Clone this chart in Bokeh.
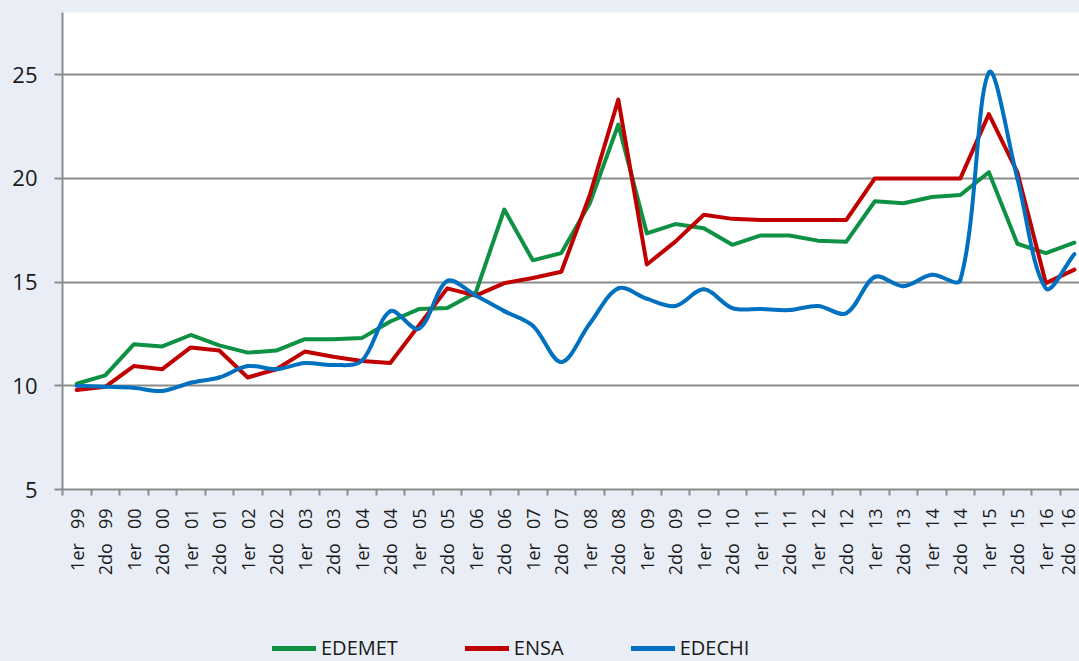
import numpy as np
from bokeh.plotting import figure
from bokeh.layouts import column
from bokeh.models import Range1d, FixedTicker, Legend, LegendItem
from bokeh.embed import file_html
from bokeh.resources import INLINE

# ---- data ----
halves = ["1er", "2do"]
years = ["99", "00", "01", "02", "03", "04", "05", "06", "07", "08",
         "09", "10", "11", "12", "13", "14", "15", "16"]
labels = [f"{h}\u00a0\u00a0\u00a0{y}" for y in years for h in halves]

edemet = [10.1, 10.5, 12.0, 11.9, 12.45, 11.95, 11.6, 11.7, 12.25, 12.25,
          12.3, 13.1, 13.7, 13.75, 14.5, 18.5, 16.05, 16.4, 18.8, 22.6,
          17.35, 17.8, 17.6, 16.8, 17.25, 17.25, 17.0, 16.95, 18.9, 18.8,
          19.1, 19.2, 20.3, 16.85, 16.4, 16.9]
ensa = [9.8, 9.95, 10.95, 10.8, 11.85, 11.7, 10.4, 10.8, 11.65, 11.4,
        11.2, 11.1, 12.9, 14.7, 14.35, 14.95, 15.2, 15.5, 19.2, 23.8,
        15.85, 16.95, 18.25, 18.05, 18.0, 18.0, 18.0, 18.0, 20.0, 20.0,
        20.0, 20.0, 23.1, 20.3, 14.95, 15.6]
edechi = [10.0, 9.95, 9.9, 9.75, 10.15, 10.4, 10.95, 10.8, 11.1, 11.0,
          11.2, 13.6, 12.75, 15.05, 14.35, 13.6, 12.9, 11.15, 13.0, 14.7,
          14.2, 13.85, 14.65, 13.75, 13.7, 13.65, 13.85, 13.5, 15.25, 14.8,
          15.35, 15.1, 25.1, 20.0, 14.7, 16.35]
series_names = ["EDEMET", "ENSA", "EDECHI"]
y_ticks = [5, 10, 15, 20, 25]

GREEN = "#0F9144"
RED = "#C00000"
BLUE = "#0070C0"
BG = "#E9EEF6"
GRID = "#8C8C8C"
FONT = "Open Sans"

n = len(labels)
xs = list(range(n))
X0, X1, Y0, Y1 = -0.5, 35.18, 5, 28
FW, FH = 1017, 477  # frame size in px

p = figure(width=1079, height=580, output_backend="svg", toolbar_location=None,
           x_range=Range1d(X0, X1), y_range=Range1d(Y0, Y1),
           min_border_left=62, min_border_right=0, min_border_top=12,
           min_border_bottom=91)
p.background_fill_color = "white"
p.border_fill_color = BG
p.outline_line_color = None

# axes
p.xaxis.ticker = FixedTicker(ticks=xs, minor_ticks=[i - 0.5 for i in range(n + 1)])
p.xaxis.major_label_overrides = {i: lab for i, lab in enumerate(labels)}
p.xaxis.major_label_orientation = np.pi / 2
p.xaxis.major_tick_out = 0
p.xaxis.major_tick_in = 0
p.xaxis.minor_tick_out = 6
p.xaxis.minor_tick_in = 0
p.xaxis.minor_tick_line_color = GRID
p.xaxis.minor_tick_line_width = 2
p.xaxis.axis_line_color = GRID
p.xaxis.axis_line_width = 2
p.xaxis.major_label_standoff = 13
p.xaxis.major_label_text_font = FONT
p.xaxis.major_label_text_font_size = "18px"
p.xaxis.major_label_text_color = "#1a1a1a"

p.yaxis.ticker = FixedTicker(ticks=y_ticks)
p.yaxis.major_tick_out = 8
p.yaxis.major_tick_in = 0
p.yaxis.minor_tick_out = 0
p.yaxis.minor_tick_in = 0
p.yaxis.major_tick_line_color = GRID
p.yaxis.major_tick_line_width = 2
p.yaxis.axis_line_color = GRID
p.yaxis.axis_line_width = 2
p.yaxis.major_label_standoff = 17
p.yaxis.major_label_text_font = FONT
p.yaxis.major_label_text_font_size = "22px"
p.yaxis.major_label_text_color = "#1a1a1a"

p.xgrid.grid_line_color = None
p.ygrid.ticker = FixedTicker(ticks=y_ticks)
p.ygrid.grid_line_color = GRID
p.ygrid.grid_line_width = 2

# lines
p.line(xs, edemet, line_color=GREEN, line_width=4, line_join="round", line_cap="round")
p.line(xs, ensa, line_color=RED, line_width=4, line_join="round", line_cap="round")

# smoothed EDECHI: Bezier segments through the data points, with tangents
# scaled by on-screen chord lengths (limits overshoot, like office charts)
sx = FW / (X1 - X0)
sy = FH / (Y1 - Y0)
xa = np.array(xs, dtype=float)
ya = np.array(edechi, dtype=float)
P = np.stack([xa * sx, ya * sy], axis=1)
d = np.hypot(*(P[1:] - P[:-1]).T)          # chord lengths
T = np.zeros_like(P)
T[1:-1] = (P[2:] - P[:-2]) / (d[:-1] + d[1:])[:, None]
T[0] = (P[1] - P[0]) / d[0]
T[-1] = (P[-1] - P[-2]) / d[-1]
C0 = P[:-1] + T[:-1] * (d / 3)[:, None]
C1 = P[1:] - T[1:] * (d / 3)[:, None]
p.bezier(x0=xa[:-1], y0=ya[:-1], x1=xa[1:], y1=ya[1:],
         cx0=C0[:, 0] / sx, cy0=C0[:, 1] / sy, cx1=C1[:, 0] / sx, cy1=C1[:, 1] / sy,
         line_color=BLUE, line_width=4, line_cap="round")

# ---- legend strip (separate canvas below the chart) ----
lg = figure(width=1079, height=81, output_backend="svg", toolbar_location=None,
            x_range=Range1d(X0, X1), y_range=Range1d(100, 101),
            x_axis_type=None, y_axis_type=None,
            min_border_left=0, min_border_right=0, min_border_top=0,
            min_border_bottom=0)
lg.background_fill_color = BG
lg.border_fill_color = BG
lg.outline_line_color = None
lg.grid.grid_line_color = None
items = []
for name, vals, col in zip(series_names, [edemet, ensa, edechi], [GREEN, RED, BLUE]):
    r = lg.line(xs, vals, line_color=col, line_width=5, line_cap="round")
    items.append(LegendItem(label=name, renderers=[r]))

legend = Legend(items=items, location=(210, 0), orientation="horizontal",
                glyph_width=44, glyph_height=20, label_standoff=5, spacing=67,
                padding=0, margin=0, border_line_color=None,
                background_fill_alpha=0,
                label_text_font=FONT, label_text_font_size="20px",
                label_text_color="#1a1a1a")
lg.add_layout(legend, "center")

layout = column(p, lg, spacing=0)
html = file_html(layout, INLINE)
html = html.replace("<head>", "<head><style>html,body{background:#E9EEF6;}</style>", 1)
open("out.html", "w").write(html)
